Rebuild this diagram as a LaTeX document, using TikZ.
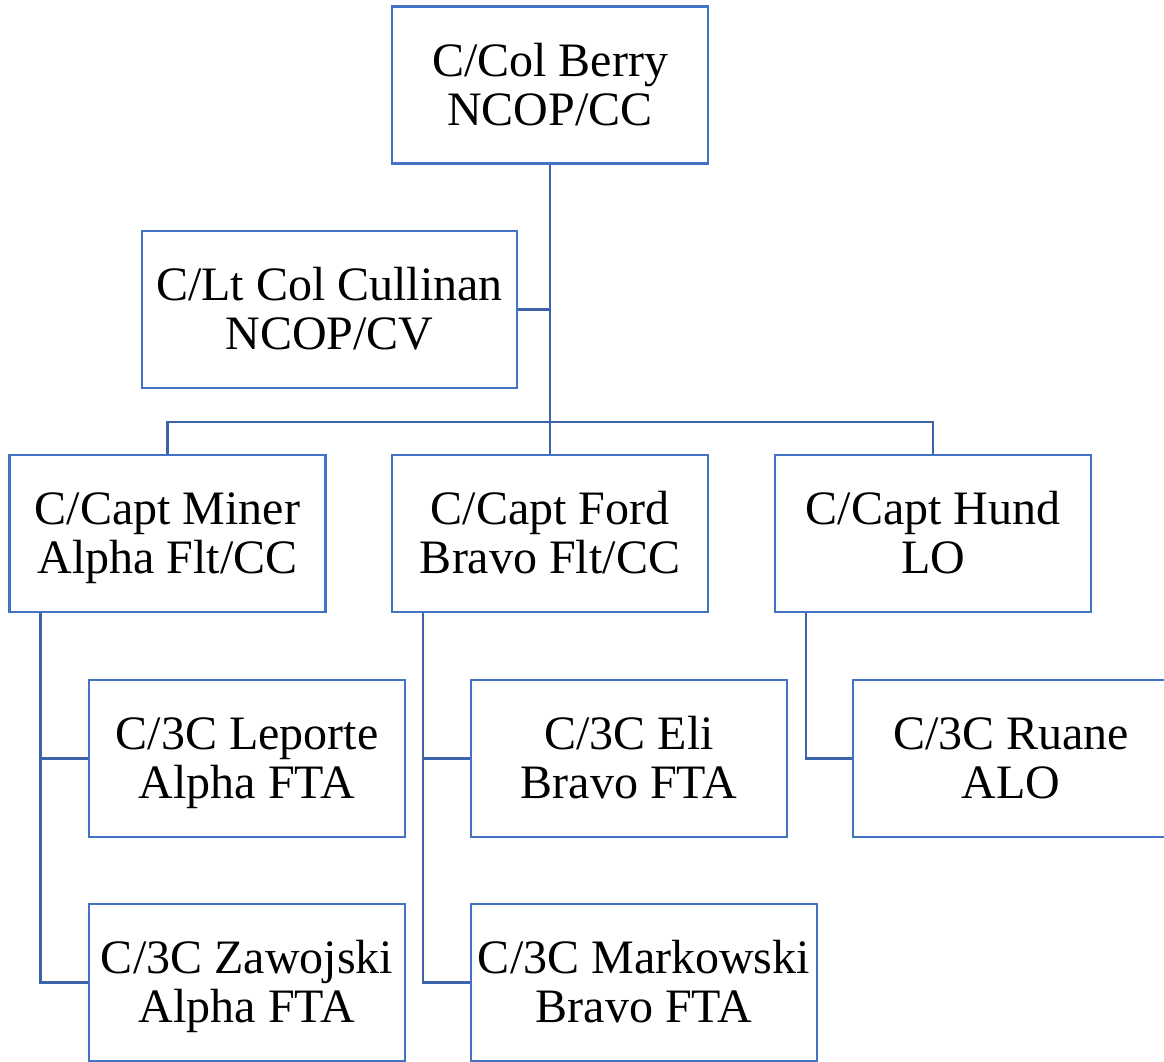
\documentclass[tikz,border=0pt]{standalone}
\usepackage{fontspec}
\setmainfont{Liberation Serif}
\usepackage{tikz}
\definecolor{boxblue}{HTML}{4472C4}
\definecolor{lineblue}{HTML}{3C63AA}
\tikzset{
  % boxes of the chart
  org box/.style = {
    draw=boxblue,
    line width=1.6pt,
    fill=white,
    align=center,
    inner sep=0pt,
    minimum width=#1,
    minimum height=117.75pt,
    font=\fontsize{36}{36.75}\selectfont,
    text height=64pt,
    text depth=3.75pt,
  },
  org box/.default=237pt,
  % connectors
  org line/.style = {
    draw=lineblue,
    line width=1.6pt,
  },
}
\begin{document}
\begin{tikzpicture}[x=0.75pt,y=-0.75pt]
  \useasboundingbox (0,0) rectangle (1164,1061);
  \node[org box] (berry) at (550,85) {C/Col Berry\\NCOP/CC};
  \node[org box=281.25pt] (cullinan) at (329.5,309.5) {C/Lt Col Cullinan\\NCOP/CV};
  \node[org box] (miner) at (167.5,533.5) {C/Capt Miner\\Alpha Flt/CC};
  \node[org box] (ford) at (550,533.5) {C/Capt Ford\\Bravo Flt/CC};
  \node[org box] (hund) at (933,533.5) {C/Capt Hund\\LO};
  \node[org box] (leporte) at (247,758.5) {C/3C Leporte\\Alpha FTA};
  \node[org box] (eli) at (629,758.5) {C/3C Eli\\Bravo FTA};
  \node[org box] (ruane) at (1011,758.5) {C/3C Ruane\\ALO};
  \node[org box] (zawojski) at (247,982.5) {C/3C Zawojski\\Alpha FTA};
  \node[org box=259.5pt] (markowski) at (644,982.5) {C/3C Markowski\\Bravo FTA};
  \coordinate (bar) at (550,422);
  % top levels
  \draw[org line] (berry.south) -- (ford.north);
  \draw[org line] (cullinan.east) -- (cullinan.east -| berry.south);
  \draw[org line] (miner.north) |- (bar) -| (hund.north);
  % flights
  \foreach \lead/\sub in {miner/leporte,miner/zawojski,ford/eli,ford/markowski,hund/ruane}
    \draw[org line] ([xshift=24pt]\lead.south west) |- (\sub.west);
\end{tikzpicture}
\end{document}
